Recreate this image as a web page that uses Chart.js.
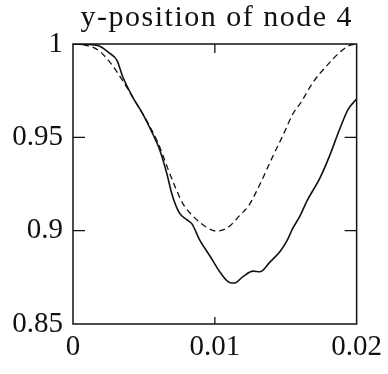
<!DOCTYPE html>
<html>
<head>
<meta charset="utf-8">
<script src="https://cdn.jsdelivr.net/npm/chart.js@4.4.0/dist/chart.umd.min.js"></script>
<style>
  html, body { margin: 0; padding: 0; background: #fff; }
  #wrap { width: 388px; height: 374px; }
</style>
</head>
<body>
<div id="wrap"><canvas id="grafica"></canvas></div>
<script>
// datos
const solidX = [0, 0.0009, 0.0018, 0.0025, 0.0031, 0.0035, 0.0042, 0.0049, 0.0056, 0.0061, 0.0066, 0.007, 0.0075, 0.008, 0.0084, 0.0089, 0.0097, 0.0104, 0.0111, 0.0114, 0.012, 0.0127, 0.0132, 0.0139, 0.0146, 0.0151, 0.0155, 0.016, 0.0165, 0.0174, 0.0181, 0.0188, 0.0194, 0.02];
const solidY = [1, 0.9998, 0.999, 0.9955, 0.9912, 0.9826, 0.9717, 0.9628, 0.9522, 0.9436, 0.931, 0.919, 0.9095, 0.906, 0.9035, 0.8955, 0.8859, 0.8774, 0.8721, 0.872, 0.8755, 0.8783, 0.878, 0.8833, 0.8888, 0.8948, 0.9013, 0.9078, 0.916, 0.928, 0.9402, 0.9543, 0.965, 0.9705];

const dashX = [0, 0.0008, 0.0018, 0.0025, 0.0032, 0.0039, 0.0046, 0.0053, 0.006, 0.0067, 0.0072, 0.00775, 0.0085, 0.0094, 0.0101, 0.0109, 0.0118, 0.0124, 0.0129, 0.0135, 0.0141, 0.0148, 0.0155, 0.0161, 0.0169, 0.0179, 0.0188, 0.0195, 0.02];
const dashY = [1, 0.9995, 0.9966, 0.9912, 0.9839, 0.9755, 0.9665, 0.9575, 0.9469, 0.933, 0.9235, 0.9145, 0.9075, 0.9019, 0.8998, 0.9016, 0.9085, 0.9135, 0.9205, 0.93, 0.94, 0.951, 0.9625, 0.969, 0.9792, 0.9884, 0.9955, 0.9993, 1];

const xTicks = [0, 0.01, 0.02];
const xTickLabels = ['0', '0.01', '0.02'];
const yTicks = [0.85, 0.9, 0.95, 1];
const yTickLabels = ['0.85', '0.9', '0.95', '1'];

const titulo = 'y-position of node 4';
const fuente = "'Liberation Serif', 'DejaVu Serif', serif";

const puntos = (xs, ys) => xs.map((x, i) => ({ x: x, y: ys[i] }));

const etiqueta = (vals, labels) => (v) => {
    const i = vals.findIndex(t => Math.abs(t - v) < 1e-9);
    return i >= 0 ? labels[i] : '';
};

// titulo, marco y marcas hacia dentro
const marco = {
    id: 'marco',
    afterDraw(chart) {
        const { ctx, chartArea: a, scales } = chart;
        ctx.save();
        ctx.fillStyle = '#111';
        ctx.font = '30px ' + fuente;
        ctx.letterSpacing = '1.5px';
        ctx.textAlign = 'center';
        ctx.textBaseline = 'alphabetic';
        ctx.fillText(titulo, (a.left + a.right) / 2 + 2, 26);
        ctx.letterSpacing = '0px';

        ctx.strokeStyle = '#111';
        ctx.lineWidth = 1.5;
        ctx.strokeRect(a.left, a.top, a.right - a.left, a.bottom - a.top);
        ctx.lineWidth = 1.3;
        ctx.beginPath();
        xTicks.slice(1, -1).forEach(v => {
            const px = scales.x.getPixelForValue(v);
            ctx.moveTo(px, a.bottom); ctx.lineTo(px, a.bottom - 7);
            ctx.moveTo(px, a.top); ctx.lineTo(px, a.top + 9);
        });
        yTicks.slice(1, -1).forEach(v => {
            const py = scales.y.getPixelForValue(v);
            ctx.moveTo(a.left, py); ctx.lineTo(a.left + 12, py);
            ctx.moveTo(a.right, py); ctx.lineTo(a.right - 12, py);
        });
        ctx.stroke();
        ctx.restore();
    }
};

const ctx = document.getElementById('grafica').getContext('2d');
new Chart(ctx, {
    type: 'scatter',
    data: {
        datasets: [{
            data: puntos(solidX, solidY),
            showLine: true,
            borderColor: '#111',
            borderWidth: 1.6,
            pointRadius: 0,
            cubicInterpolationMode: 'monotone'
        }, {
            data: puntos(dashX, dashY),
            showLine: true,
            borderColor: '#111',
            borderWidth: 1.3,
            borderDash: [6, 4],
            pointRadius: 0,
            cubicInterpolationMode: 'monotone'
        }]
    },
    options: {
        responsive: true,
        maintainAspectRatio: false,
        animation: false,
        layout: { padding: { left: 0, right: 26, top: 44, bottom: 0 } },
        plugins: {
            legend: { display: false },
            tooltip: { enabled: false },
            title: { display: false }
        },
        scales: {
            x: {
                type: 'linear',
                min: 0,
                max: 0.02,
                afterBuildTicks: (s) => { s.ticks = xTicks.map(v => ({ value: v })); },
                afterFit: (s) => { s.height = 50; },
                grid: { display: false, drawTicks: false },
                border: { display: false },
                ticks: {
                    color: '#111',
                    padding: 6,
                    maxRotation: 0,
                    font: { family: fuente, size: 29 },
                    callback: etiqueta(xTicks, xTickLabels)
                }
            },
            y: {
                type: 'linear',
                min: 0.85,
                max: 1,
                afterBuildTicks: (s) => { s.ticks = yTicks.map(v => ({ value: v })); },
                afterFit: (s) => { s.width = 73; },
                grid: { display: false, drawTicks: false },
                border: { display: false },
                ticks: {
                    color: '#111',
                    padding: 10,
                    font: { family: fuente, size: 29 },
                    callback: etiqueta(yTicks, yTickLabels)
                }
            }
        }
    },
    plugins: [marco]
});
</script>
</body>
</html>
